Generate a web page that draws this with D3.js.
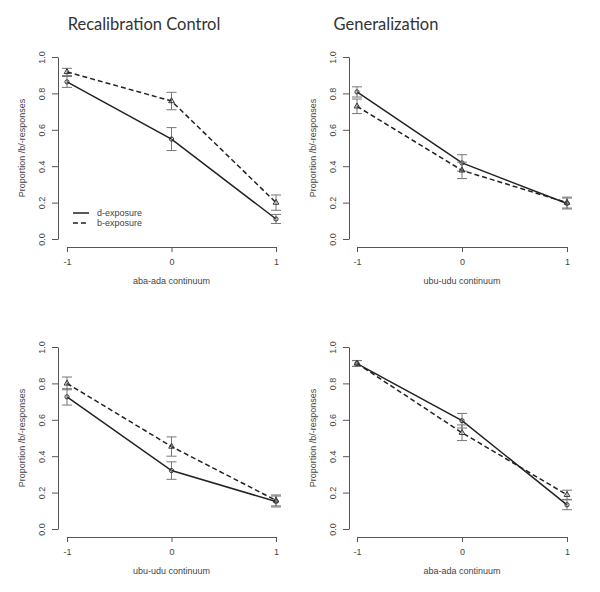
<!DOCTYPE html>
<html><head><meta charset="utf-8">
<script src="https://cdn.jsdelivr.net/npm/d3@7"></script>
<style>
html,body{margin:0;padding:0;background:#fff;}
svg{display:block;}
</style></head>
<body>
<svg id="c" width="600" height="592"></svg>
<script>
// ---- data ----
const columnTitles = ["Recalibration Control", "Generalization"];
const xValues = [-1, 0, 1];
const xTickLabels = ["-1", "0", "1"];
const yTickValues = [0, 0.2, 0.4, 0.6, 0.8, 1.0];
const panelXLabels = ["aba-ada continuum", "ubu-udu continuum", "ubu-udu continuum", "aba-ada continuum"];
const yAxisLabel = "Proportion /b/-responses";
const seriesNames = ["d-exposure", "b-exposure"];
// d-exposure (solid, circles)
const dMeans = [[0.863, 0.549, 0.110], [0.808, 0.418, 0.195], [0.726, 0.321, 0.151], [0.909, 0.595, 0.133]];
const dErr   = [[0.030, 0.063, 0.025], [0.028, 0.045, 0.030], [0.045, 0.048, 0.030], [0.016, 0.040, 0.027]];
// b-exposure (dashed, triangles)
const bMeans = [[0.918, 0.758, 0.200], [0.729, 0.377, 0.200], [0.800, 0.453, 0.157], [0.910, 0.529, 0.188]];
const bErr   = [[0.020, 0.048, 0.042], [0.040, 0.045, 0.030], [0.035, 0.053, 0.030], [0.016, 0.043, 0.025]];

// ---- layout ----
const panels = [
  {x0: 67, x1: 276, yAxisX: 58, yTop: 57, yBot: 239, xAxisY: 247},
  {x0: 357, x1: 567, yAxisX: 349, yTop: 57, yBot: 239, xAxisY: 247},
  {x0: 67, x1: 276, yAxisX: 58, yTop: 347, yBot: 529, xAxisY: 537},
  {x0: 357, x1: 567, yAxisX: 349, yTop: 347, yBot: 529, xAxisY: 537}
];
const svg = d3.select("#c");
const axisColor = "#555";
const textColor = "#444";
const font = "Liberation Sans, Arial, sans-serif";

svg.selectAll("text.title").data(columnTitles).enter().append("text")
  .attr("class", "title")
  .attr("x", (d, i) => i === 0 ? 144 : 386)
  .attr("y", 30)
  .attr("text-anchor", "middle")
  .attr("font-family", "Lato, Open Sans, sans-serif")
  .attr("font-size", 16.5)
  .attr("fill", "#333")
  .text(d => d);

panels.forEach((p, i) => {
  const x = d3.scaleLinear().domain([-1, 1]).range([p.x0, p.x1]);
  const y = d3.scaleLinear().domain([0, 1]).range([p.yBot, p.yTop]);
  const g = svg.append("g");

  // y axis
  const ya = d3.axisLeft(y).tickValues(yTickValues).tickFormat(d3.format(".1f")).tickSize(6).tickSizeOuter(0);
  const yg = g.append("g").attr("transform", `translate(${p.yAxisX},0)`).call(ya);
  yg.select(".domain").attr("stroke", axisColor);
  yg.selectAll(".tick line").attr("stroke", axisColor);
  yg.selectAll(".tick text")
    .attr("transform", "rotate(-90)")
    .attr("x", 0)
    .attr("y", -13)
    .attr("dy", "0")
    .attr("text-anchor", "middle")
    .attr("font-family", font).attr("font-size", 9).attr("fill", textColor);

  // x axis
  const xa = d3.axisBottom(x).tickValues(xValues).tickFormat((d, k) => xTickLabels[k]).tickSize(5).tickSizeOuter(0);
  const xg = g.append("g").attr("transform", `translate(0,${p.xAxisY})`).call(xa);
  xg.select(".domain").attr("stroke", axisColor);
  xg.selectAll(".tick line").attr("stroke", axisColor);
  xg.selectAll(".tick text").attr("y", 12).attr("font-family", font).attr("font-size", 9).attr("fill", textColor);

  // axis titles
  g.append("text").attr("x", (p.x0 + p.x1) / 2).attr("y", p.xAxisY + 37)
    .attr("text-anchor", "middle").attr("font-family", font).attr("font-size", 9).attr("fill", textColor)
    .text(panelXLabels[i]);
  g.append("text")
    .attr("transform", `translate(${p.yAxisX - 33},${(p.yTop + p.yBot) / 2}) rotate(-90)`)
    .attr("text-anchor", "middle").attr("font-family", font).attr("font-size", 9).attr("fill", textColor)
    .text(yAxisLabel);

  const series = [
    {m: dMeans[i], e: dErr[i], dash: null, shape: d3.symbolCircle},
    {m: bMeans[i], e: bErr[i], dash: "5,3", shape: d3.symbolTriangle}
  ];
  const line = d3.line().x((d, k) => x(xValues[k])).y(d => y(d));
  series.forEach(s => {
    g.append("path").attr("d", line(s.m)).attr("fill", "none")
      .attr("stroke", "#222").attr("stroke-width", 1.5)
      .attr("stroke-dasharray", s.dash);
    // error bars
    s.m.forEach((v, k) => {
      const cx = x(xValues[k]);
      const lo = y(v - s.e[k]), hi = y(v + s.e[k]);
      g.append("line").attr("x1", cx).attr("x2", cx).attr("y1", lo).attr("y2", hi).attr("stroke", "#777").attr("stroke-width", 1);
      [lo, hi].forEach(yy => g.append("line").attr("x1", cx - 5).attr("x2", cx + 5).attr("y1", yy).attr("y2", yy).attr("stroke", "#777").attr("stroke-width", 1));
      g.append("path").attr("d", d3.symbol().type(s.shape).size(14)())
        .attr("transform", `translate(${cx},${y(v)})`)
        .attr("fill", "none").attr("stroke", "#333").attr("stroke-width", 1);
    });
  });

  if (i === 0) {
    const lg = g.append("g");
    seriesNames.forEach((n, k) => {
      const ly = 213 + k * 10;
      lg.append("line").attr("x1", 73).attr("x2", 89).attr("y1", ly).attr("y2", ly)
        .attr("stroke", "#222").attr("stroke-width", 1.5).attr("stroke-dasharray", k === 1 ? "5,3" : null);
      lg.append("text").attr("x", 97).attr("y", ly + 3).attr("font-family", font).attr("font-size", 9).attr("fill", textColor).text(n);
    });
  }
});
</script>
</body></html>
